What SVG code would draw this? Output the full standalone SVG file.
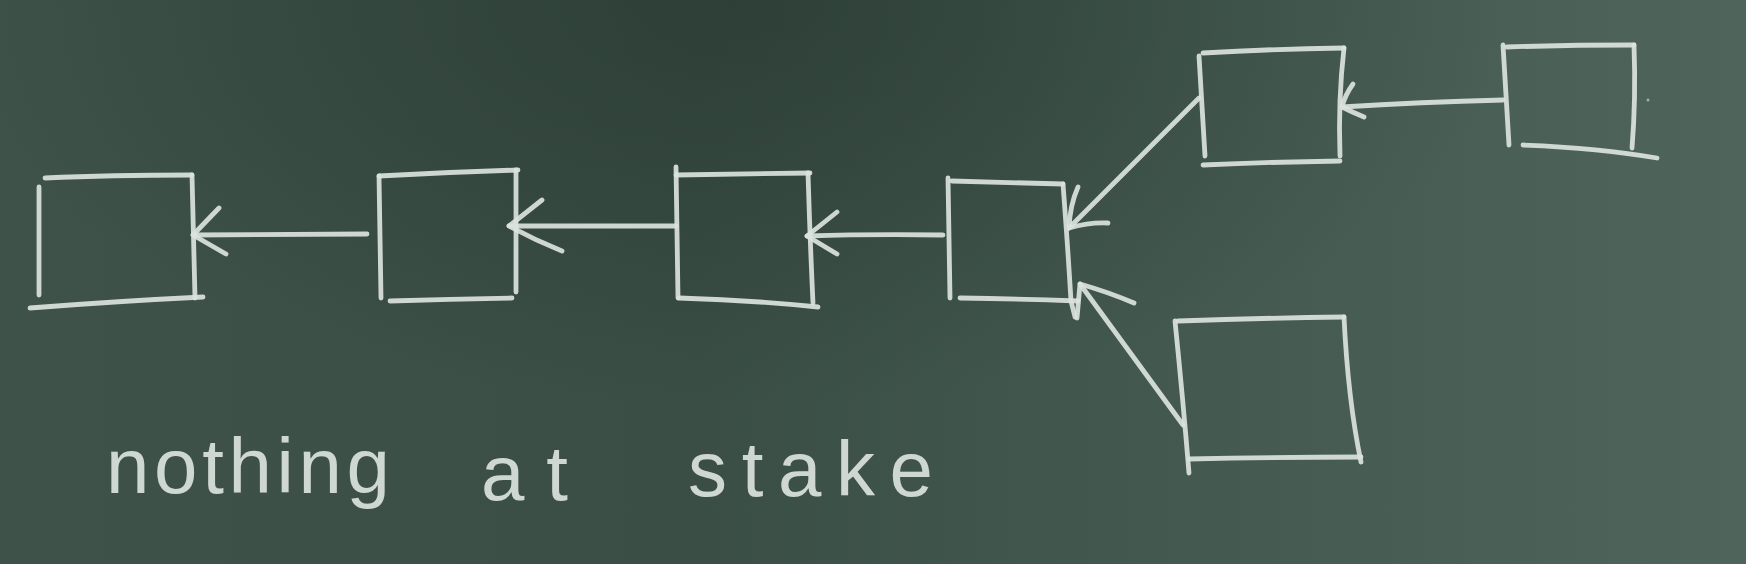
<svg xmlns="http://www.w3.org/2000/svg" width="1746" height="564" viewBox="0 0 1746 564">
<defs>
<linearGradient id="bg" x1="0" y1="0" x2="1" y2="0">
<stop offset="0" stop-color="#3e5249"/>
<stop offset="0.4" stop-color="#3a4e45"/>
<stop offset="0.75" stop-color="#465c53"/>
<stop offset="1" stop-color="#4f655c"/>
</linearGradient>
<radialGradient id="shade" cx="0.42" cy="0" r="0.45" gradientTransform="translate(0.42 0) scale(1 1.6) translate(-0.42 0)">
<stop offset="0" stop-color="#22322a" stop-opacity="0.55"/>
<stop offset="1" stop-color="#22322a" stop-opacity="0"/>
</radialGradient>
</defs>
<style>
.c{fill:none;stroke:#dbe3dd;stroke-width:4.8;stroke-linecap:round;stroke-linejoin:round;opacity:0.92}
.t{font-family:"Liberation Sans","DejaVu Sans",sans-serif;font-size:78px;fill:#dbe3dd;opacity:0.92}
</style>
<rect width="1746" height="564" fill="url(#bg)"/>
<rect width="1746" height="564" fill="url(#shade)"/>

<g id="block1">
<path class="c" d="M39 187 L39 295"/>
<path class="c" d="M45 178 Q110 175 192 175"/>
<path class="c" d="M192 175 L195 298"/>
<path class="c" d="M30 308 Q120 301 203 297"/>
</g>
<g id="block2">
<path class="c" d="M379 176 L381 298"/>
<path class="c" d="M379 176 Q450 172 518 170"/>
<path class="c" d="M516 170 L516 292"/>
<path class="c" d="M390 301 Q450 299 512 298"/>
</g>
<g id="block3">
<path class="c" d="M676 167 L678 298"/>
<path class="c" d="M676 175 L810 173"/>
<path class="c" d="M808 173 Q810 240 813 303"/>
<path class="c" d="M679 298 Q750 300 818 307"/>
</g>
<g id="block4">
<path class="c" d="M948 178 L950 298"/>
<path class="c" d="M952 181 L1063 184"/>
<path class="c" d="M1063 184 Q1068 250 1071 301 L1075 317"/>
<path class="c" d="M960 298 Q1020 299 1078 301"/>
</g>
<g id="block5">
<path class="c" d="M1199 56 L1205 156"/>
<path class="c" d="M1203 53 Q1270 49 1344 48"/>
<path class="c" d="M1344 48 Q1338 100 1340 156"/>
<path class="c" d="M1203 165 Q1270 162 1340 161"/>
</g>
<g id="block6">
<path class="c" d="M1503 45 L1509 145"/>
<path class="c" d="M1507 47 Q1570 45 1634 45"/>
<path class="c" d="M1634 45 Q1636 100 1632 148"/>
<path class="c" d="M1523 145 Q1600 148 1657 158"/>
<circle cx="1648" cy="100" r="1.5" fill="#dbe3dd" opacity="0.6"/>
</g>
<g id="block7">
<path class="c" d="M1175 321 Q1183 400 1189 473"/>
<path class="c" d="M1178 321 Q1260 318 1344 317"/>
<path class="c" d="M1344 317 Q1348 400 1361 462"/>
<path class="c" d="M1189 459 Q1280 457 1361 457"/>
</g>

<g id="connectors">
<path class="c" d="M367 234 L193 235"/>
<path class="c" d="M219 208 L193 235 L226 254"/>
<path class="c" d="M676 226 L509 226"/>
<path class="c" d="M542 200 L509 226 Q535 240 562 251"/>
<path class="c" d="M943 235 Q870 234 807 236"/>
<path class="c" d="M837 212 L807 236 L837 254"/>
<path class="c" d="M1199 98 L1069 228"/>
<path class="c" d="M1078 187 Q1070 205 1069 228 Q1090 222 1108 223"/>
<path class="c" d="M1183 425 L1080 284"/>
<path class="c" d="M1077 318 L1080 284 Q1108 292 1134 303"/>
<path class="c" d="M1503 100 Q1420 102 1342 107"/>
<path class="c" d="M1353 84 Q1345 95 1342 107 Q1352 112 1364 117"/>
</g>

<g id="caption">
<text class="t" x="106" y="493" textLength="284" lengthAdjust="spacing">nothing</text>
<text class="t" x="481" y="500" textLength="87" lengthAdjust="spacing">at</text>
<text class="t" x="688" y="496" textLength="245" lengthAdjust="spacing">stake</text>
</g>
</svg>
